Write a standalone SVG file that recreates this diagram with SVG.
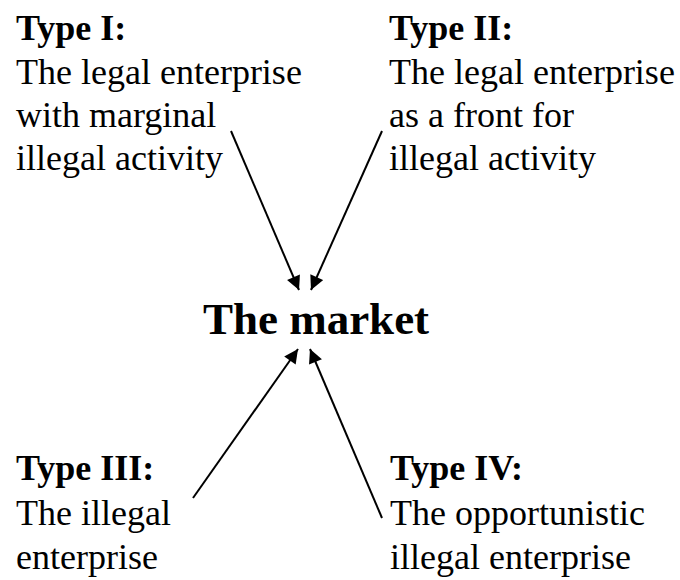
<svg xmlns="http://www.w3.org/2000/svg" width="680" height="580" viewBox="0 0 680 580">
<defs>
<style>
text { font-family: "Liberation Serif", "Times New Roman", serif; fill: #000; }
.h { font-size: 36px; font-weight: bold; }
.t { font-size: 36px; }
.m { font-size: 45px; font-weight: bold; }
.c { stroke: #000; stroke-width: 2; fill: none; }
</style>
<marker id="ah" viewBox="0 0 10 10" refX="10" refY="5" markerWidth="7.5" markerHeight="7" markerUnits="strokeWidth" orient="auto">
<path d="M0,0 L10,5 L0,10 z" fill="#000"/>
</marker>
</defs>
<rect width="680" height="580" fill="#fff"/>
<g id="type1">
<text class="h" x="16" y="40">Type I:</text>
<text class="t" x="16" y="84">The legal enterprise</text>
<text class="t" x="16" y="127">with marginal</text>
<text class="t" x="16" y="170">illegal activity</text>
</g>
<g id="type2">
<text class="h" x="389" y="40">Type II:</text>
<text class="t" x="389" y="84">The legal enterprise</text>
<text class="t" x="389" y="127">as a front for</text>
<text class="t" x="389" y="170">illegal activity</text>
</g>
<g id="market">
<text class="m" x="316" y="334" text-anchor="middle">The market</text>
</g>
<g id="type3">
<text class="h" x="16" y="480">Type III:</text>
<text class="t" x="16" y="525">The illegal</text>
<text class="t" x="16" y="569">enterprise</text>
</g>
<g id="type4">
<text class="h" x="390" y="480">Type IV:</text>
<text class="t" x="390" y="525">The opportunistic</text>
<text class="t" x="390" y="569">illegal enterprise</text>
</g>
<g id="connectors">
<line class="c" x1="231" y1="131" x2="299" y2="290" marker-end="url(#ah)"/>
<line class="c" x1="382" y1="131" x2="311" y2="290" marker-end="url(#ah)"/>
<line class="c" x1="193" y1="498" x2="298" y2="349" marker-end="url(#ah)"/>
<line class="c" x1="382" y1="518" x2="310" y2="349" marker-end="url(#ah)"/>
</g>
</svg>
